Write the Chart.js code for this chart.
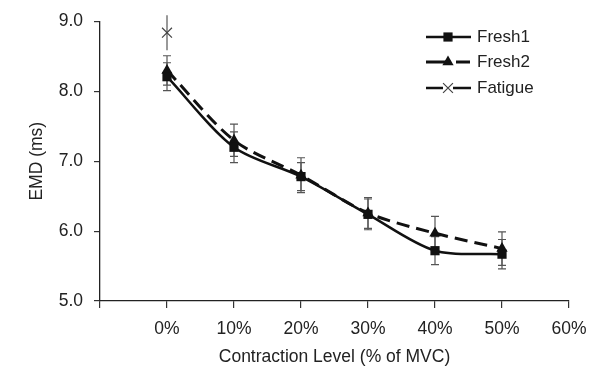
<!DOCTYPE html>
<html><head><meta charset="utf-8">
<script src="https://cdn.jsdelivr.net/npm/chart.js@4/dist/chart.umd.min.js"></script>
<style>html,body{margin:0;padding:0;background:#fff;}#wrap{width:612px;height:380px;}</style>
</head><body><div id="wrap"><canvas id="c" width="612" height="380"></canvas></div>
<script>
const levels = [0, 10, 20, 30, 40, 50];
const fresh1 = [8.21, 7.20, 6.78, 6.24, 5.72, 5.67];
const fresh1Err = [0.20, 0.22, 0.20, 0.22, 0.20, 0.21];
const fresh2 = [8.30, 7.30, 6.80, 6.26, 5.97, 5.75];
const fresh2Err = [0.21, 0.23, 0.25, 0.22, 0.24, 0.24];
const fatigue = [8.84, null, null, null, null, null];
const fatigueErr = [0.25, null, null, null, null, null];
const seriesNames = ['Fresh1', 'Fresh2', 'Fatigue'];
const xTickValues = [-10, 0, 10, 20, 30, 40, 50, 60];
const yTickValues = [5, 6, 7, 8, 9];

const FONT = '"Liberation Sans", Arial, sans-serif';
const TXT = '#222';

function pts(vals){ return levels.map((x,i)=>({x:x, y:vals[i]})).filter(p=>p.y!==null); }
const errs = [fresh1Err, fresh2Err, fatigueErr];

const errorBars = {
  id:'errorBars',
  beforeDatasetsDraw(chart){
    const ctx = chart.ctx, xs = chart.scales.x, ys = chart.scales.y;
    ctx.save();
    ctx.setLineDash([]);
    ctx.strokeStyle = '#555'; ctx.lineWidth = 1.2;
    chart.data.datasets.forEach((ds,di)=>{
      ds.data.forEach((p,i)=>{
        const e = errs[di][levels.indexOf(p.x)];
        if (e==null) return;
        const px = xs.getPixelForValue(p.x);
        const y1 = ys.getPixelForValue(p.y+e), y2 = ys.getPixelForValue(p.y-e);
        ctx.beginPath();
        ctx.moveTo(px,y1); ctx.lineTo(px,y2);
        if (di !== 2) {
          ctx.moveTo(px-4,y1); ctx.lineTo(px+4,y1);
          ctx.moveTo(px-4,y2); ctx.lineTo(px+4,y2);
        }
        ctx.stroke();
      });
    });
    ctx.restore();
  }
};

function drawMarker(ctx, style, x, y, r, color){
  ctx.save();
  ctx.setLineDash([]);
  ctx.fillStyle = color; ctx.strokeStyle = color;
  ctx.beginPath();
  if (style==='rect'){ const s = Math.SQRT1_2*r; ctx.rect(x-s,y-s,2*s,2*s); ctx.fill(); }
  else if (style==='triangle'){ ctx.moveTo(x, y-r); ctx.lineTo(x+r*0.866, y+r*0.5); ctx.lineTo(x-r*0.866, y+r*0.5); ctx.closePath(); ctx.fill(); }
  else { const o = Math.SQRT1_2*r; ctx.lineWidth=1.2; ctx.moveTo(x-o,y-o); ctx.lineTo(x+o,y+o); ctx.moveTo(x+o,y-o); ctx.lineTo(x-o,y+o); ctx.stroke(); }
  ctx.restore();
}

const legendPlugin = {
  id:'customLegend',
  afterDraw(chart){
    const ctx = chart.ctx;
    const rows = [37, 62, 88];
    chart.data.datasets.forEach((ds,i)=>{
      const y = rows[i];
      ctx.save();
      ctx.setLineDash([]);
      ctx.strokeStyle = '#111';
      ctx.lineWidth = ds.borderWidth;
      ctx.beginPath();
      if (i===1){
        ctx.moveTo(426,y); ctx.lineTo(446,y); ctx.moveTo(456,y); ctx.lineTo(470,y);
      } else if (i===2){
        ctx.moveTo(426,y); ctx.lineTo(443,y); ctx.moveTo(453,y); ctx.lineTo(471,y);
      } else {
        ctx.moveTo(426,y); ctx.lineTo(471,y);
      }
      ctx.stroke();
      ctx.restore();
      drawMarker(ctx, ds.pointStyle, 448, y, ds.pointRadius, ds.pointBackgroundColor);
      ctx.save();
      ctx.fillStyle = TXT; ctx.font = '17px ' + FONT; ctx.textBaseline = 'middle';
      ctx.fillText(ds.label, 477, y);
      ctx.restore();
    });
  }
};

new Chart(document.getElementById('c'), {
  type:'line',
  data:{ datasets:[
    { label:seriesNames[0], data:pts(fresh1), borderColor:'#111', borderWidth:2.5, tension:0.3,
      pointStyle:'rect', pointRadius:6.5, pointBackgroundColor:'#111', pointBorderColor:'#111', pointBorderWidth:0, clip:false },
    { label:seriesNames[1], data:pts(fresh2), borderColor:'#111', borderWidth:3, borderDash:[13,7], tension:0.3,
      pointStyle:'triangle', pointRadius:6.5, pointBackgroundColor:'#111', pointBorderColor:'#111', pointBorderWidth:0, clip:false },
    { label:seriesNames[2], data:pts(fatigue), borderColor:'#111', borderWidth:2.5,
      pointStyle:'crossRot', pointRadius:7, pointBackgroundColor:'#444', pointBorderColor:'#444', pointBorderWidth:1.2, clip:false }
  ]},
  options:{
    responsive:false, devicePixelRatio:1, animation:false,
    layout:{ padding:{ left:0, top:17, right:43, bottom:0 } },
    plugins:{ legend:{display:false}, tooltip:{enabled:false} },
    scales:{
      x:{ type:'linear', min:-10, max:60,
        afterBuildTicks(s){ s.ticks = xTickValues.map(v=>({value:v})); },
        afterFit(s){ s.height = 79; },
        ticks:{ color:TXT, font:{family:FONT, size:17.5}, padding:11, maxRotation:0,
          callback:(v)=> v < 0 ? '' : v + '%' },
        grid:{ drawOnChartArea:false, drawTicks:true, tickLength:7, color:'#333', lineWidth:1.2 },
        border:{ display:true, color:'#222', width:1.3 },
        title:{ display:true, text:'Contraction Level (% of MVC)', color:TXT, font:{family:FONT, size:17.5}, padding:{top:0, bottom:12} }
      },
      y:{ min:5, max:9,
        afterBuildTicks(s){ s.ticks = yTickValues.map(v=>({value:v})); },
        afterFit(s){ s.width = 100; },
        ticks:{ color:TXT, font:{family:FONT, size:17.5}, padding:11, callback:(v)=> Number(v).toFixed(1) },
        grid:{ drawOnChartArea:false, drawTicks:true, tickLength:6, color:'#333', lineWidth:1.2 },
        border:{ display:true, color:'#222', width:1.3 },
        title:{ display:true, text:'EMD (ms)', color:TXT, font:{family:FONT, size:17.5}, padding:{top:27, bottom:0} }
      }
    }
  },
  plugins:[errorBars, legendPlugin]
});
</script></body></html>
